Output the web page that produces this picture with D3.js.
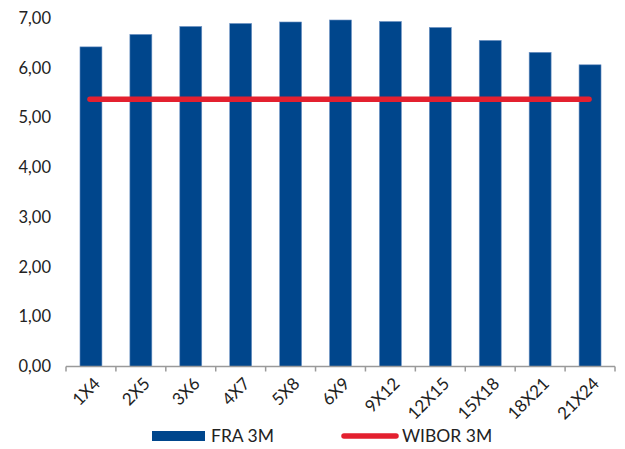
<!DOCTYPE html>
<html>
<head>
<meta charset="utf-8">
<script src="https://cdn.jsdelivr.net/npm/d3@7"></script>
<style>
  html, body { margin: 0; padding: 0; background: #fff; }
  svg text { font-family: Lato, "Open Sans", sans-serif; fill: #222; }
</style>
</head>
<body>
<svg id="chart" width="625" height="449"></svg>
<script>
// FRA 3M curve against the current WIBOR 3M fixing
const categories = ["1X4", "2X5", "3X6", "4X7", "5X8", "6X9", "9X12", "12X15", "15X18", "18X21", "21X24"];
const fraValues = [6.42, 6.67, 6.83, 6.89, 6.92, 6.96, 6.93, 6.81, 6.55, 6.31, 6.06];
const wiborValue = 5.37;
const yTicks = [0, 1, 2, 3, 4, 5, 6, 7];
const seriesNames = ["FRA 3M", "WIBOR 3M"];

const blue = "#00468c";
const red = "#e3202f";

const svg = d3.select("#chart");
const margin = { left: 66, right: 10, top: 18, bottom: 82 };

const x = d3.scaleBand()
  .domain(categories)
  .range([margin.left, 615])
  .paddingInner(0.56)
  .paddingOuter(0.28);

const xBounds = d3.scaleBand().domain(categories).range([margin.left, 615]);

const y = d3.scaleLinear().domain([0, 7]).range([366.5, 18]);

// y-axis labels (no axis line)
const fmt = v => d3.format(".2f")(v).replace(".", ",");
svg.append("g")
  .selectAll("text")
  .data(yTicks)
  .join("text")
  .attr("x", 51)
  .attr("y", d => y(d))
  .attr("dy", "0.35em")
  .attr("text-anchor", "end")
  .attr("font-size", 16.5)
  .text(fmt);

// bars
svg.append("g")
  .selectAll("rect")
  .data(fraValues)
  .join("rect")
  .attr("x", (d, i) => x(categories[i]))
  .attr("y", d => y(d))
  .attr("width", x.bandwidth())
  .attr("height", d => y(0) - y(d))
  .attr("fill", blue)
  .attr("stroke", "#6f93c4")
  .attr("stroke-width", 0.6);

// x axis baseline with ticks at the category boundaries
const axisG = svg.append("g");
axisG.append("line")
  .attr("x1", margin.left).attr("x2", 615)
  .attr("y1", y(0)).attr("y2", y(0))
  .attr("stroke", "#9a9a9a").attr("stroke-width", 1.5);
const boundaries = categories.map(c => xBounds(c)).concat([615]);
axisG.selectAll("line.tick")
  .data(boundaries)
  .join("line")
  .attr("class", "tick")
  .attr("x1", d => d).attr("x2", d => d)
  .attr("y1", y(0)).attr("y2", y(0) + 5)
  .attr("stroke", "#9a9a9a").attr("stroke-width", 1.5);

// rotated category labels
svg.append("g")
  .selectAll("text")
  .data(categories)
  .join("text")
  .attr("transform", d => `translate(${xBounds(d) + xBounds.bandwidth() / 2 + 6},${y(0) + 14}) rotate(-45)`)
  .attr("text-anchor", "end")
  .attr("dy", "0.35em")
  .attr("font-size", 17)
  .text(d => d);

// WIBOR reference line spanning first to last category centre
const firstC = x(categories[0]) + x.bandwidth() / 2;
const lastC = x(categories[categories.length - 1]) + x.bandwidth() / 2;
svg.append("line")
  .attr("x1", firstC - 1).attr("x2", lastC - 1)
  .attr("y1", y(wiborValue)).attr("y2", y(wiborValue))
  .attr("stroke", red).attr("stroke-width", 5.5)
  .attr("stroke-linecap", "round");

// legend
const legend = svg.append("g").attr("font-size", 17.5);
legend.append("rect")
  .attr("x", 152).attr("y", 431).attr("width", 53).attr("height", 10)
  .attr("fill", blue);
legend.append("text")
  .attr("x", 211).attr("y", 436).attr("dy", "0.35em")
  .text(seriesNames[0]);
legend.append("line")
  .attr("x1", 344).attr("x2", 396).attr("y1", 436).attr("y2", 436)
  .attr("stroke", red).attr("stroke-width", 5.5).attr("stroke-linecap", "round");
legend.append("text")
  .attr("x", 402).attr("y", 436).attr("dy", "0.35em")
  .text(seriesNames[1]);
</script>
</body>
</html>
